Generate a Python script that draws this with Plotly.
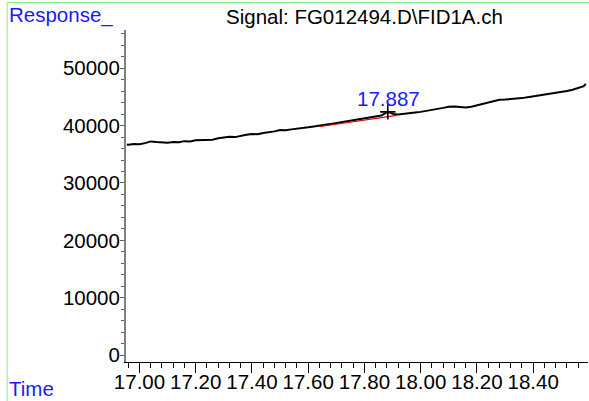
import plotly.graph_objects as go

# ---- data ----
times = [16.955, 16.96, 16.98, 17.00, 17.02, 17.04, 17.06, 17.08, 17.10, 17.12, 17.14, 17.16, 17.18,
         17.20, 17.22, 17.24, 17.26, 17.28, 17.30, 17.32, 17.34, 17.36, 17.38, 17.40, 17.42,
         17.44, 17.46, 17.48, 17.50, 17.52, 17.54, 17.56, 17.58, 17.60, 17.62, 17.64, 17.66,
         17.68, 17.70, 17.72, 17.74, 17.76, 17.78, 17.80, 17.82, 17.84, 17.86, 17.87, 17.88,
         17.89, 17.90, 17.92, 17.94, 17.96, 17.98, 18.00, 18.02, 18.04, 18.06, 18.08, 18.10,
         18.12, 18.14, 18.16, 18.18, 18.20, 18.22, 18.24, 18.26, 18.28, 18.30, 18.32, 18.34,
         18.36, 18.38, 18.40, 18.42, 18.44, 18.46, 18.48, 18.50, 18.52, 18.54, 18.56, 18.58, 18.587]
response = [36700, 36650, 36800, 36750, 36950, 37250, 37150, 37050, 37000, 37150, 37100, 37300, 37250,
            37450, 37500, 37600, 37550, 37800, 37900, 38050, 38000, 38250, 38400, 38550, 38500,
            38700, 38800, 39000, 39250, 39200, 39350, 39450, 39500, 39700, 39850, 39950, 40150,
            40300, 40450, 40600, 40800, 40950, 41100, 41250, 41400, 41550, 41750, 42050, 42350,
            42300, 42050, 41950, 42100, 42200, 42300, 42400, 42550, 42700, 42900, 43100, 43300,
            43350, 43250, 43150, 43300, 43550, 43750, 44000, 44300, 44500, 44550, 44600, 44650,
            44800, 44950, 45100, 45200, 45350, 45500, 45650, 45850, 46050, 46250, 46550, 46900, 47300]

baseline_t = [17.643, 17.915]
baseline_v = [39850, 41800]

peak_time = 17.887
peak_top = 42400
peak_label = "17.887"

x_tick_vals = [17.0, 17.2, 17.4, 17.6, 17.8, 18.0, 18.2, 18.4]
x_tick_text = ["17.00", "17.20", "17.40", "17.60", "17.80", "18.00", "18.20", "18.40"]
y_tick_vals = [0, 10000, 20000, 30000, 40000, 50000]
y_tick_text = ["0", "10000", "20000", "30000", "40000", "50000"]

title_text = "Signal: FG012494.D\\FID1A.ch"
y_label = "Response_"
x_label = "Time"

FONT = "Arial, Liberation Sans, sans-serif"
BLUE = "#1a1aff"
FS = 20.5

fig = go.Figure()
fig.add_trace(go.Scatter(x=times, y=response, mode="lines",
                         line=dict(color="black", width=2), hoverinfo="skip"))
fig.add_trace(go.Scatter(x=baseline_t, y=baseline_v, mode="lines",
                         line=dict(color="#e00000", width=1.2), hoverinfo="skip"))
fig.add_trace(go.Scatter(x=[peak_time - 0.004], y=[peak_top], mode="markers",
                         marker=dict(symbol="cross-thin", size=11,
                                     line=dict(color="black", width=1.6)),
                         hoverinfo="skip"))
# invisible trace on the overlay axis carrying the long major ticks
fig.add_trace(go.Scatter(x=[x_tick_vals[0]], y=[None], xaxis="x2", mode="lines",
                         hoverinfo="skip", showlegend=False))

L, R, T, B = 125.5, 1, 30, 39
W, H = 589, 401
pw = W - L - R
ph = H - T - B
XR = [16.952, 18.595]


def px(xp):
    return (xp - L) / pw


def py(yp):
    return (H - B - yp) / ph


fig.update_layout(
    width=W, height=H, autosize=False,
    margin=dict(l=L, r=R, t=T, b=B, pad=0),
    paper_bgcolor="white", plot_bgcolor="white",
    showlegend=False,
    font=dict(family=FONT, size=FS, color="black"),
    xaxis=dict(range=XR, showgrid=False, zeroline=False,
               showline=True, linecolor="black", linewidth=1,
               tickvals=x_tick_vals, ticktext=x_tick_text,
               ticks="outside", ticklen=5, tickcolor="black", tickwidth=1,
               ticklabelstandoff=-4,
               minor=dict(dtick=0.04, tick0=17.0, ticks="outside", ticklen=5,
                          tickcolor="black", tickwidth=1, showgrid=False),
               tickfont=dict(family=FONT, size=FS, color="black")),
    xaxis2=dict(range=XR, overlaying="x", anchor="y", side="bottom",
                showgrid=False, zeroline=False, showline=False,
                tickvals=x_tick_vals, showticklabels=False,
                ticks="outside", ticklen=10, tickcolor="black", tickwidth=1),
    yaxis=dict(range=[-1220, 56680], showgrid=False, zeroline=False,
               showline=True, linecolor="#808080", linewidth=2,
               tickvals=y_tick_vals, ticktext=y_tick_text,
               ticks="outside", ticklen=4, tickcolor="#606060", tickwidth=1,
               ticklabelstandoff=-4,
               minor=dict(dtick=2000, tick0=0, ticks="outside", ticklen=3,
                          tickcolor="#606060", tickwidth=1, showgrid=False),
               tickfont=dict(family=FONT, size=FS, color="black")),
    shapes=[
        dict(type="line", xref="paper", yref="paper",
             x0=px(6.5), x1=px(6.5), y0=py(2.5), y1=py(420),
             line=dict(color="#80ee80", width=1)),
        dict(type="line", xref="paper", yref="paper",
             x0=px(6.5), x1=px(620), y0=py(2.5), y1=py(2.5),
             line=dict(color="#80ee80", width=1)),
    ],
    annotations=[
        dict(text=y_label, xref="paper", yref="paper", x=px(6), y=py(15),
             xanchor="left", yanchor="middle", showarrow=False,
             font=dict(family=FONT, size=FS, color=BLUE)),
        dict(text=x_label, xref="paper", yref="paper", x=px(6), y=py(388),
             xanchor="left", yanchor="middle", showarrow=False,
             font=dict(family=FONT, size=FS, color=BLUE)),
        dict(text=title_text, xref="paper", yref="paper", x=px(364), y=py(17),
             xanchor="center", yanchor="middle", showarrow=False,
             font=dict(family=FONT, size=FS, color="black")),
        dict(text=peak_label, x=peak_time, y=peak_top, xref="x", yref="y",
             xanchor="center", yanchor="bottom", yshift=0, showarrow=False,
             font=dict(family=FONT, size=FS, color=BLUE)),
    ],
)

fig.write_html("out.html", config={"displayModeBar": False},
               post_script="document.body.style.margin='0';document.body.style.overflow='hidden';")
